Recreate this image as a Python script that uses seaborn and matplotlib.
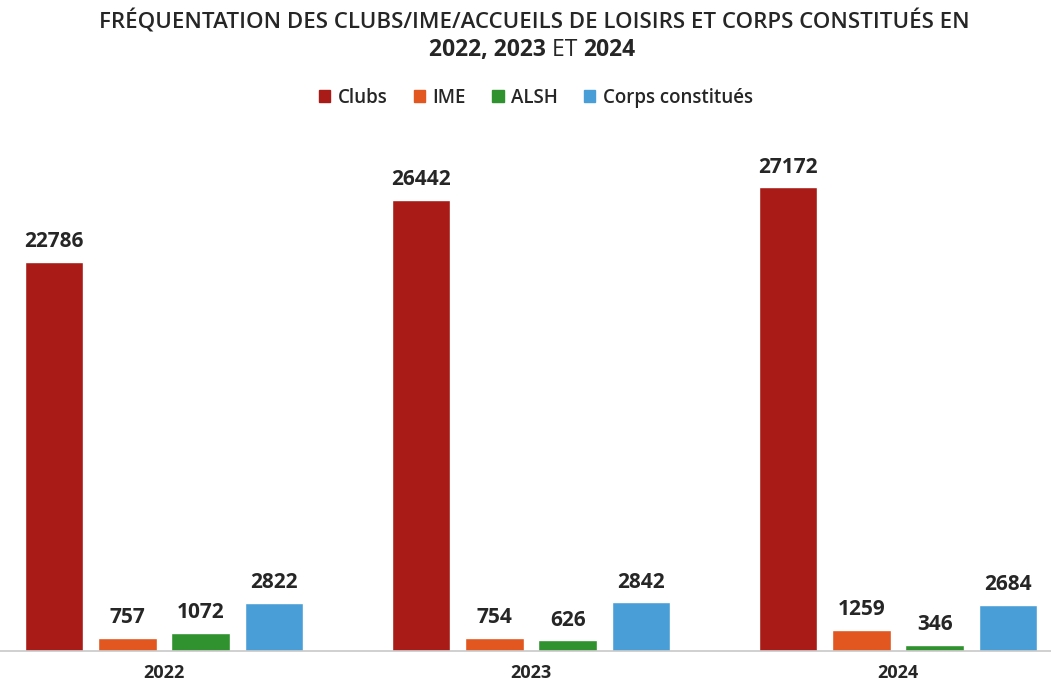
import pandas as pd
import matplotlib.pyplot as plt
import seaborn as sns

# données
annees = ['2022', '2023', '2024']
categories = ['Clubs', 'IME', 'ALSH', 'Corps constitués']
clubs = [22786, 26442, 27172]
ime = [757, 754, 1259]
alsh = [1072, 626, 346]
corps = [2822, 2842, 2684]
couleurs = ['#A81B16', '#E2561F', '#2F922E', '#4A9ED8']

rows = []
for serie, vals in zip(categories, [clubs, ime, alsh, corps]):
    for a, v in zip(annees, vals):
        rows.append({'Année': a, 'Type': serie, 'Valeur': v})
df = pd.DataFrame(rows)

sns.set_style('white')
plt.rcParams['font.family'] = ['Open Sans', 'DejaVu Sans']

fig = plt.figure(figsize=(10.51, 6.82), dpi=100)
ax = fig.add_axes([0.0, 31 / 682, 1.0, 512 / 682])

sns.barplot(data=df, x='Année', y='Valeur', hue='Type', hue_order=categories,
            palette=couleurs, width=0.8, gap=0.2, saturation=1, ax=ax, legend=False)

for cont in ax.containers:
    ax.bar_label(cont, fmt='%d', padding=7, fontsize=15, fontweight='bold', color='#262626')

ax.set_xlim(-0.447, 2.417)
ax.set_ylim(0, 30000)
ax.set_xlabel('')
ax.set_ylabel('')
ax.set_yticks([])
ax.tick_params(axis='x', length=0, pad=9)
for lab in ax.get_xticklabels():
    lab.set_fontweight('bold')
    lab.set_fontsize(13)
    lab.set_color('#262626')
for s in ['top', 'left', 'right']:
    ax.spines[s].set_visible(False)
ax.spines['bottom'].set_color('#c8c8c8')
ax.spines['bottom'].set_linewidth(1.2)

# titre
fig.text(0.508, 1 - 21 / 682, 'FRÉQUENTATION DES CLUBS/IME/ACCUEILS DE LOISIRS ET CORPS CONSTITUÉS EN',
         ha='center', va='center', fontsize=16, fontweight='semibold', color='#262626')
t1 = fig.text(0.4, 1 - 50 / 682, '2022, 2023', ha='left', va='center',
              fontsize=16.5, fontweight='bold', color='#262626')
t2 = fig.text(0.4, 1 - 50 / 682, ' ET ', ha='left', va='center', fontsize=16.5, color='#262626')
t3 = fig.text(0.4, 1 - 50 / 682, '2024', ha='left', va='center',
              fontsize=16.5, fontweight='bold', color='#262626')
r = fig.canvas.get_renderer()
w = [t.get_window_extent(r).width / fig.bbox.width for t in (t1, t2, t3)]
x0 = 532 / 1051 - sum(w) / 2
t1.set_x(x0)
t2.set_x(x0 + w[0])
t3.set_x(x0 + w[0] + w[1])

# légende
handles = [plt.Rectangle((0, 0), 1, 1, color=c) for c in couleurs]
fig.legend(handles, categories, loc='center', bbox_to_anchor=(0.51, 1 - 98 / 682), ncol=4,
           frameon=False, prop={'size': 13.5, 'weight': 'semibold'}, handlelength=0.6,
           handleheight=0.6, handletextpad=0.4, columnspacing=1.4)

plt.savefig('out.png', dpi=100)
